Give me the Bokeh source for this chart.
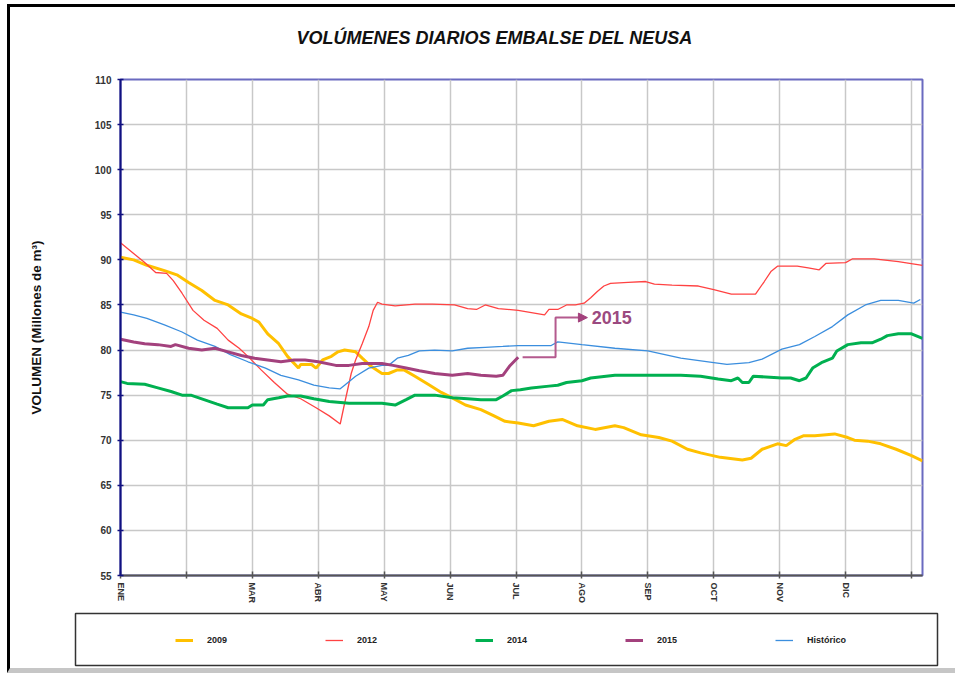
from bokeh.plotting import figure
from bokeh.layouts import column
from bokeh.models import (Range1d, FixedTicker, Legend, LegendItem, Arrow, NormalHead, Label, Title)
from bokeh.embed import file_html
from bokeh.resources import INLINE

# ---------------- data (day of year, volume in millions of m3) ----------------
month_ticks = [0, 30, 60, 90, 120, 150, 180, 210, 240, 270, 300, 330, 360]
month_labels = ["ENE", "", "MAR", "ABR", "MAY", "JUN", "JUL", "AGO", "SEP", "OCT", "NOV", "DIC", ""]
y_ticks = [55, 60, 65, 70, 75, 80, 85, 90, 95, 100, 105, 110]

d2009 = [0, 6, 12, 20, 26, 31, 37, 43, 49, 55, 60, 63, 67, 72, 76, 81, 82, 87, 89, 92, 96, 99, 102,
         107, 110, 114, 119, 122, 126, 129, 134, 140, 146, 151, 157, 164, 170, 175, 181, 188, 195,
         201, 208, 216, 225, 229, 237, 245, 251, 258, 264, 273, 283, 287, 292, 299, 303, 307, 311,
         316, 325, 331, 334, 340, 346, 353, 360, 365]
v2009 = [90.3, 90.0, 89.4, 88.8, 88.3, 87.5, 86.6, 85.5, 85.0, 84.0, 83.5, 83.1, 81.8, 80.7, 79.3,
         78.0, 78.4, 78.4, 78.0, 78.9, 79.3, 79.8, 80.0, 79.8, 79.1, 78.2, 77.4, 77.4, 77.8, 77.8,
         77.1, 76.2, 75.3, 74.7, 73.9, 73.4, 72.7, 72.1, 71.9, 71.6, 72.1, 72.3, 71.6, 71.2, 71.6,
         71.4, 70.6, 70.3, 69.9, 69.0, 68.6, 68.1, 67.8, 68.0, 69.0, 69.6, 69.4, 70.1, 70.5, 70.5,
         70.7, 70.3, 70.0, 69.9, 69.6, 69.0, 68.3, 67.7]

d2012 = [0, 11, 16, 21, 24, 28, 33, 38, 44, 49, 54, 58, 64, 70, 76, 82, 89, 95, 100, 102, 105, 107,
         110, 113, 115, 117, 119, 125, 134, 142, 152, 158, 162, 166, 172, 181, 193, 195, 199, 203,
         207, 211, 214, 217, 220, 223, 231, 239, 243, 251, 263, 270, 278, 286, 289, 293, 296, 299,
         308, 313, 318, 321, 330, 333, 343, 354, 365]
v2012 = [91.9, 89.7, 88.6, 88.5, 87.7, 86.3, 84.4, 83.3, 82.4, 81.1, 80.2, 79.3, 77.8, 76.4, 75.1,
         74.6, 73.6, 72.7, 71.8, 74.1, 77.4, 78.9, 80.7, 82.6, 84.4, 85.3, 85.1, 84.9, 85.1, 85.1,
         85.0, 84.6, 84.5, 85.0, 84.6, 84.4, 83.9, 84.5, 84.5, 85.0, 85.0, 85.2, 85.8, 86.5, 87.1,
         87.4, 87.5, 87.6, 87.3, 87.2, 87.1, 86.7, 86.2, 86.2, 86.2, 87.6, 88.7, 89.3, 89.3, 89.1,
         88.9, 89.6, 89.7, 90.1, 90.1, 89.8, 89.4]

d2014 = [0, 3, 11, 17, 23, 28, 32, 38, 44, 49, 58, 60, 65, 67, 72, 76, 82, 88, 95, 104, 119, 125,
         130, 134, 143, 151, 158, 164, 171, 174, 178, 182, 187, 195, 199, 203, 210, 214, 225, 240,
         255, 264, 272, 278, 281, 283, 286, 288, 301, 305, 309, 312, 315, 319, 324, 326, 331, 337,
         342, 346, 349, 354, 360, 365]
v2014 = [76.5, 76.3, 76.2, 75.8, 75.4, 75.0, 75.0, 74.5, 74.0, 73.6, 73.6, 73.9, 73.9, 74.5, 74.7,
         74.9, 74.9, 74.6, 74.3, 74.1, 74.1, 73.9, 74.5, 75.0, 75.0, 74.7, 74.6, 74.5, 74.5, 74.9,
         75.5, 75.6, 75.8, 76.0, 76.1, 76.4, 76.6, 76.9, 77.2, 77.2, 77.2, 77.1, 76.8, 76.6, 76.9,
         76.4, 76.4, 77.1, 76.9, 76.9, 76.6, 76.9, 78.0, 78.6, 79.1, 79.9, 80.6, 80.8, 80.8, 81.2,
         81.6, 81.8, 81.8, 81.3]

d2015 = [0, 6, 11, 17, 23, 25, 31, 37, 43, 49, 55, 61, 67, 73, 79, 84, 90, 98, 104, 110, 119, 124,
         130, 136, 143, 151, 158, 164, 171, 174, 177, 181]
v2015 = [81.2, 80.9, 80.7, 80.6, 80.4, 80.6, 80.2, 80.0, 80.2, 79.8, 79.4, 79.1, 78.9, 78.7, 78.9,
         78.9, 78.7, 78.3, 78.3, 78.5, 78.5, 78.3, 78.0, 77.7, 77.4, 77.2, 77.4, 77.2, 77.1, 77.2,
         78.2, 79.2]

dhist = [0, 6, 12, 20, 28, 35, 43, 50, 58, 66, 73, 81, 88, 95, 100, 102, 107, 113, 119, 122, 126,
         131, 136, 143, 151, 158, 166, 174, 181, 187, 196, 199, 210, 225, 240, 255, 270, 276, 286,
         292, 301, 309, 316, 324, 331, 339, 346, 354, 361, 364]
vhist = [84.2, 83.9, 83.5, 82.8, 82.0, 81.1, 80.4, 79.5, 78.7, 78.0, 77.2, 76.7, 76.1, 75.8, 75.7,
         76.1, 77.1, 78.0, 78.3, 78.3, 79.1, 79.4, 79.9, 80.0, 79.9, 80.2, 80.3, 80.4, 80.5, 80.5,
         80.5, 80.9, 80.6, 80.2, 79.9, 79.1, 78.6, 78.4, 78.6, 79.0, 80.1, 80.6, 81.5, 82.6, 83.9,
         85.0, 85.5, 85.5, 85.2, 85.6]

series_names = ["2009", "2012", "2014", "2015", "Histórico"]

# callout for 2015 (annotation geometry)
CALLOUT_START_GAP = 2
CALLOUT_ELBOW_DAY = 198
CALLOUT_TIP_DAY = 212.5
CALLOUT_LEVEL = 83.6

# styles
FONT = "Liberation Sans"
COL = {"2009": "#FFC000", "2012": "#FF4242", "2014": "#00B050", "2015": "#A3417D",
       "Histórico": "#3b8ede"}
LW = {"2009": 3, "2012": 1.3, "2014": 3, "2015": 3, "Histórico": 1.3}

# ---------------- main figure ----------------
W = 945
p = figure(width=W, height=599, output_backend="svg", toolbar_location=None,
           x_range=Range1d(0, 365), y_range=Range1d(55, 110),
           min_border_left=110, min_border_right=33, min_border_top=72, min_border_bottom=27,
           background_fill_color="white", border_fill_color="white")
p.frame_align = False

# spacer between frame and title (pushes the title upward)
p.add_layout(Title(text=" ", text_font_size="8px", standoff=16), "above")

p.title.text = "VOLÚMENES DIARIOS EMBALSE DEL NEUSA"
p.title.align = "left"
p.title.offset = 176
p.title.text_font = FONT
p.title.text_font_style = "bold italic"
p.title.text_font_size = "18px"
p.title.text_color = "#111111"

p.outline_line_color = "#6a6ac0"
p.outline_line_width = 2

xa = p.xaxis[0]
xa.ticker = FixedTicker(ticks=month_ticks)
xa.major_label_overrides = {t: lab for t, lab in zip(month_ticks, month_labels)}
xa.major_label_orientation = "vertical"
xa.major_label_text_font = FONT
xa.major_label_text_font_style = "bold"
xa.major_label_text_font_size = "9px"
xa.major_label_text_color = "#333333"
xa.major_label_standoff = 4
xa.axis_line_color = "#555555"
xa.axis_line_width = 2
xa.major_tick_line_color = "#555555"
xa.major_tick_line_width = 1.5
xa.major_tick_in = 4
xa.major_tick_out = 3
xa.minor_tick_line_color = None

ya = p.yaxis[0]
ya.ticker = FixedTicker(ticks=y_ticks)
ya.major_label_text_font = FONT
ya.major_label_text_font_style = "bold"
ya.major_label_text_font_size = "10px"
ya.major_label_text_color = "#333333"
ya.major_label_standoff = 6
ya.axis_line_color = "#101080"
ya.axis_line_width = 2
ya.major_tick_line_color = "#101080"
ya.major_tick_line_width = 1.5
ya.major_tick_in = 3
ya.major_tick_out = 3
ya.minor_tick_line_color = None
ya.axis_label = "VOLUMEN (Millones de m³)"
ya.axis_label_text_font = FONT
ya.axis_label_text_font_style = "bold"
ya.axis_label_text_font_size = "13.5px"
ya.axis_label_text_color = "#111111"
ya.axis_label_standoff = 48

p.xgrid.ticker = FixedTicker(ticks=month_ticks)
p.ygrid.ticker = FixedTicker(ticks=y_ticks)
for g in (p.xgrid[0], p.ygrid[0]):
    g.grid_line_color = "#c8c8c8"
    g.grid_line_width = 1.5

data = {"2009": (d2009, v2009), "2012": (d2012, v2012), "2014": (d2014, v2014),
        "Histórico": (dhist, vhist), "2015": (d2015, v2015)}
for name in ["2009", "2012", "2014", "Histórico", "2015"]:
    xs, ys = data[name]
    p.line(xs, ys, line_color=COL[name], line_width=LW[name])

# 2015 callout
x0 = d2015[-1] + CALLOUT_START_GAP
y0 = v2015[-1]
p.line([x0, CALLOUT_ELBOW_DAY, CALLOUT_ELBOW_DAY, CALLOUT_TIP_DAY - 3],
       [y0, y0, CALLOUT_LEVEL, CALLOUT_LEVEL], line_color="#B45A8E", line_width=2)
p.add_layout(Arrow(end=NormalHead(size=9, fill_color="#A3417D", line_color="#A3417D"),
                   x_start=CALLOUT_TIP_DAY - 4, y_start=CALLOUT_LEVEL,
                   x_end=CALLOUT_TIP_DAY, y_end=CALLOUT_LEVEL,
                   line_color="#A3417D", line_width=2))
p.add_layout(Label(x=CALLOUT_TIP_DAY + 2, y=CALLOUT_LEVEL, text="2015",
                   text_font=FONT, text_font_style="bold", text_font_size="18px",
                   text_color="#9B4A80", text_baseline="middle"))

# ---------------- legend strip (its frame is the legend box) ----------------
q = figure(width=W, height=62, output_backend="svg", toolbar_location=None,
           x_range=Range1d(0, 1), y_range=Range1d(0, 1),
           x_axis_location=None, y_axis_location=None,
           min_border_left=65, min_border_right=18, min_border_top=7, min_border_bottom=3,
           background_fill_color="white", border_fill_color="white")
q.frame_align = False
q.grid.visible = False
q.outline_line_color = "#333333"
q.outline_line_width = 1.5

items = []
for name in series_names:
    xs, ys = data[name]
    # legend key: a single out-of-range point of the series (nothing is drawn in the strip)
    key = q.line(xs[:1], ys[:1], line_color=COL[name], line_width=LW[name])
    items.append(LegendItem(label=name, renderers=[key]))

legend = Legend(items=items, orientation="horizontal", location=(100, 15),
                padding=0, spacing=4, margin=0,
                glyph_width=18, glyph_height=20, label_width=114, label_height=20,
                label_standoff=14,
                label_text_font=FONT, label_text_font_style="bold",
                label_text_font_size="9px", label_text_color="#222222",
                border_line_alpha=0, background_fill_alpha=0)
q.add_layout(legend, "center")

layout = column(p, q, spacing=0,
                styles={"margin-left": "7px", "margin-top": "4px",
                        "border-left": "3px solid #000000",
                        "border-top": "3px solid #000000",
                        "border-bottom": "5px solid #c6c6c6"})

open("out.html", "w").write(file_html(layout, INLINE))
